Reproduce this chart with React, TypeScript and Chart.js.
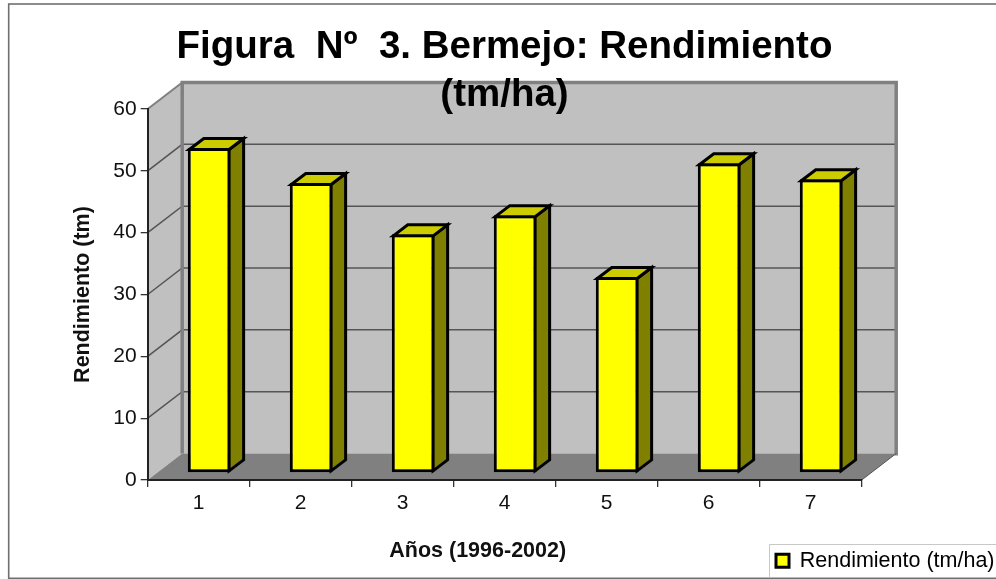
import React, { useEffect, useRef } from "react";
import { Chart, registerables } from "chart.js";

Chart.register(...registerables);

const TITLE_LINES = ["Figura  Nº  3. Bermejo: Rendimiento", "(tm/ha)"];
const YEARS = ["1", "2", "3", "4", "5", "6", "7"];
const YIELDS = [52.55, 46.9, 38.6, 41.7, 31.7, 50.1, 47.5];
const SERIES_NAME = "Rendimiento (tm/ha)";
const Y_TITLE = "Rendimiento (tm)";
const X_TITLE = "Años (1996-2002)";
const FONT = "'Liberation Sans', Arial, sans-serif";

const WALL = { dx: 34.5, dy: -26.5 };
const BAR_SHIFT = { dx: 10.5, dy: -7 };
const BAR_DEPTH = { dx: 14.5, dy: -11 };

const scene3d = {
  id: "scene3d",
  beforeLayout(chart: any) {
    const legend = chart.legend;
    if (legend && !legend.__flat) {
      legend.__flat = true;
      const orig = legend.update;
      legend.update = function (...a: any[]) {
        orig.apply(this, a);
        this.height = 0;
      };
    }
  },
  afterLayout(chart: any) {
    const t = chart.titleBlock;
    t.left = 13;
    t.right = 996;
    const l = chart.legend;
    l.left = 766;
    l.right = 996;
    l.top = 540;
    l.bottom = 579;
    const x = chart.scales.x;
    if (!x.__shifted) {
      x.__shifted = true;
      const d = x.drawTitle;
      x.drawTitle = function () {
        const c = this.ctx;
        c.save();
        c.translate(-27, 0);
        d.call(this);
        c.restore();
      };
    }
  },
  beforeDraw(chart: any) {
    const { ctx, chartArea: a, scales } = chart;
    const y = scales.y;
    const { dx, dy } = WALL;
    ctx.save();
    ctx.fillStyle = "#ffffff";
    ctx.fillRect(0, 0, chart.width, chart.height);
    // frame
    ctx.strokeStyle = "#707070";
    ctx.lineWidth = 1.6;
    ctx.strokeRect(8.7, 4, 1020, 574.3);
    // legend frame
    ctx.strokeStyle = "#c8c8c8";
    ctx.lineWidth = 1;
    ctx.beginPath();
    ctx.moveTo(769.5, 578);
    ctx.lineTo(769.5, 544.5);
    ctx.lineTo(996, 544.5);
    ctx.stroke();
    // walls
    ctx.fillStyle = "#c0c0c0";
    ctx.fillRect(a.left + dx, a.top + dy, a.right - a.left, a.bottom - a.top);
    ctx.beginPath();
    ctx.moveTo(a.left, a.bottom);
    ctx.lineTo(a.left + dx, a.bottom + dy);
    ctx.lineTo(a.left + dx, a.top + dy);
    ctx.lineTo(a.left, a.top);
    ctx.closePath();
    ctx.fill();
    // floor
    ctx.fillStyle = "#808080";
    ctx.beginPath();
    ctx.moveTo(a.left, a.bottom);
    ctx.lineTo(a.left + dx, a.bottom + dy);
    ctx.lineTo(a.right + dx, a.bottom + dy);
    ctx.lineTo(a.right, a.bottom);
    ctx.closePath();
    ctx.fill();
    // gridlines
    ctx.strokeStyle = "#555555";
    ctx.lineWidth = 1.5;
    y.ticks.forEach((tk: any) => {
      if (tk.value === y.min || tk.value === y.max) return;
      const p = y.getPixelForValue(tk.value);
      ctx.beginPath();
      ctx.moveTo(a.left, p);
      ctx.lineTo(a.left + dx, p + dy);
      ctx.lineTo(a.right + dx, p + dy);
      ctx.stroke();
    });
    // wall edges
    ctx.strokeStyle = "#808080";
    ctx.lineWidth = 3.5;
    ctx.lineJoin = "miter";
    ctx.beginPath();
    ctx.moveTo(a.left + dx, a.bottom + dy);
    ctx.lineTo(a.left + dx, a.top + dy);
    ctx.lineTo(a.right + dx, a.top + dy);
    ctx.lineTo(a.right + dx, a.bottom + dy + 2);
    ctx.stroke();
    ctx.lineWidth = 2;
    ctx.beginPath();
    ctx.moveTo(a.left, a.top);
    ctx.lineTo(a.left + dx, a.top + dy);
    ctx.stroke();
    ctx.strokeStyle = "#555555";
    ctx.lineWidth = 1;
    ctx.beginPath();
    ctx.moveTo(a.right, a.bottom);
    ctx.lineTo(a.right + dx, a.bottom + dy);
    ctx.stroke();
    ctx.restore();
  },
  beforeDatasetsDraw(chart: any) {
    chart.ctx.save();
    chart.ctx.translate(BAR_SHIFT.dx, BAR_SHIFT.dy);
  },
  afterDatasetsDraw(chart: any) {
    const ctx = chart.ctx;
    const lw = 3;
    const inset = lw / 2;
    const { dx, dy } = BAR_DEPTH;
    ctx.lineWidth = lw;
    ctx.strokeStyle = "#000000";
    ctx.lineJoin = "miter";
    chart.getDatasetMeta(0).data.forEach((bar: any) => {
      const l = bar.x - bar.width / 2 + inset;
      const r = bar.x + bar.width / 2 - inset;
      const t = bar.y + inset;
      const b = bar.base - inset;
      ctx.fillStyle = "#808000";
      ctx.beginPath();
      ctx.moveTo(r, t);
      ctx.lineTo(r + dx, t + dy);
      ctx.lineTo(r + dx, b + dy);
      ctx.lineTo(r, b);
      ctx.closePath();
      ctx.fill();
      ctx.stroke();
      ctx.fillStyle = "#cccc00";
      ctx.beginPath();
      ctx.moveTo(l, t);
      ctx.lineTo(l + dx, t + dy);
      ctx.lineTo(r + dx, t + dy);
      ctx.lineTo(r, t);
      ctx.closePath();
      ctx.fill();
      ctx.stroke();
    });
    ctx.restore();
  },
};

export default function App() {
  const ref = useRef<HTMLCanvasElement>(null);
  useEffect(() => {
    const chart = new Chart(ref.current!, {
      type: "bar",
      data: {
        labels: YEARS,
        datasets: [
          {
            label: SERIES_NAME,
            data: YIELDS,
            backgroundColor: "#ffff00",
            borderColor: "#000000",
            borderWidth: 3,
            borderSkipped: false,
            barPercentage: 0.42,
            categoryPercentage: 1,
          },
        ],
      },
      options: {
        responsive: false,
        animation: false,
        events: [],
        layout: { padding: { left: 10, right: 134.3, top: 0, bottom: 0 } },
        plugins: {
          tooltip: { enabled: false },
          title: {
            display: true,
            text: TITLE_LINES,
            color: "#000000",
            font: { family: FONT, size: 38.5, weight: "bold", lineHeight: 48 / 38.5 },
            padding: { top: 23, bottom: -10 },
          },
          legend: {
            display: true,
            position: "bottom",
            align: "start",
            labels: {
              color: "#000000",
              font: { family: FONT, size: 21.5 },
              boxWidth: 13,
              boxHeight: 13,
              padding: 10,
            },
          },
        },
        scales: {
          x: {
            afterFit(s: any) {
              s.height = 99;
            },
            border: { color: "#222222", width: 2 },
            grid: { drawOnChartArea: false, drawTicks: true, tickLength: 7, color: "#333333", lineWidth: 1.3 },
            ticks: { color: "#111111", font: { family: FONT, size: 21 }, padding: 4, maxRotation: 0 },
            title: {
              display: true,
              text: X_TITLE,
              color: "#111111",
              font: { family: FONT, size: 21.5, weight: "bold" },
              padding: { top: 0, bottom: 15 },
            },
          },
          y: {
            min: 0,
            max: 60,
            afterFit(s: any) {
              s.width = 137.7;
            },
            border: { color: "#222222", width: 2 },
            grid: { drawOnChartArea: false, drawTicks: true, tickLength: 7, color: "#333333", lineWidth: 1.3 },
            ticks: { stepSize: 10, color: "#111111", font: { family: FONT, size: 21 }, padding: 4 },
            title: {
              display: true,
              text: Y_TITLE,
              color: "#111111",
              font: { family: FONT, size: 21.5, weight: "bold" },
              padding: { top: 60, bottom: 0 },
            },
          },
        },
      } as any,
      plugins: [scene3d],
    });
    return () => chart.destroy();
  }, []);
  return (
    <div style={{ position: "fixed", left: 0, top: 0, width: 996, height: 579, overflow: "hidden" }}>
      <canvas ref={ref} width={996} height={579} style={{ display: "block" }} />
    </div>
  );
}
